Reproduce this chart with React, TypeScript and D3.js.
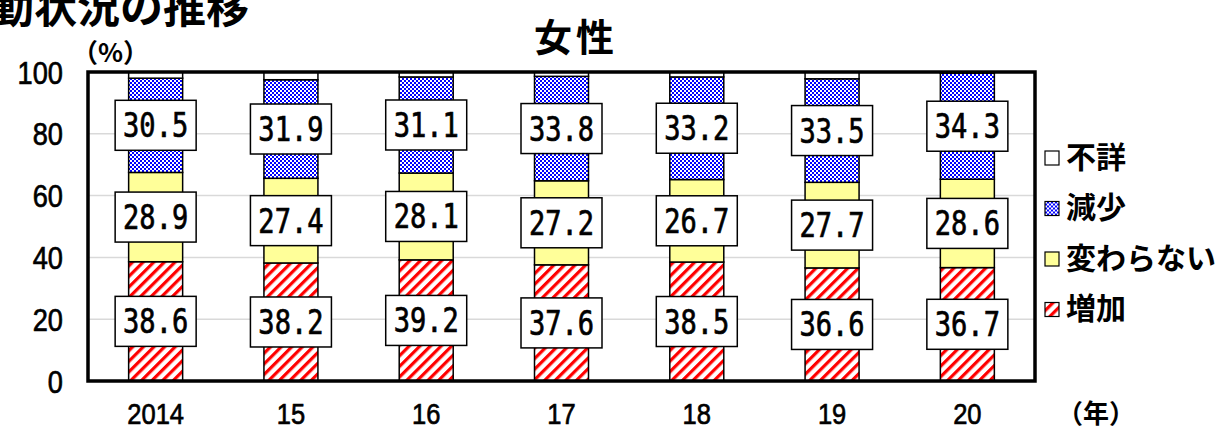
import React, { useEffect, useRef } from 'react';
import * as d3 from 'd3';

const years = ['2014', '15', '16', '17', '18', '19', '20'];
const increase = [38.6, 38.2, 39.2, 37.6, 38.5, 36.6, 36.7];
const unchanged = [28.9, 27.4, 28.1, 27.2, 26.7, 27.7, 28.6];
const decrease = [30.5, 31.9, 31.1, 33.8, 33.2, 33.5, 34.3];
const unknown = [2.0, 2.5, 1.6, 1.4, 1.6, 2.2, 0.4];
const yTicks = [0, 20, 40, 60, 80, 100];
const seriesNames = ['増加', '変わらない', '減少', '不詳'];

const NUM_FONT = '"Liberation Sans", Arial, sans-serif';
const MONO_FONT = '"DejaVu Sans Mono", "Liberation Mono", monospace';
const JP_FONT = '"Noto Sans CJK JP", sans-serif';

const App = () => {
  const svgRef = useRef<SVGSVGElement>(null);

  useEffect(() => {
    const svg = d3.select(svgRef.current);
    svg.selectAll('*').remove();

    const left = 88, right = 1035, top = 72, bottom = 381;

    const defs = svg.append('defs');
    const stripe = defs.append('pattern')
      .attr('id', 'stripe')
      .attr('patternUnits', 'userSpaceOnUse')
      .attr('width', 7.5).attr('height', 7.5)
      .attr('patternTransform', 'rotate(45)');
    stripe.append('rect').attr('width', 7.5).attr('height', 7.5).attr('fill', '#fff');
    stripe.append('rect').attr('width', 3.2).attr('height', 7.5).attr('fill', '#ff0000');

    const check = defs.append('pattern')
      .attr('id', 'check')
      .attr('patternUnits', 'userSpaceOnUse')
      .attr('width', 4).attr('height', 4);
    check.append('rect').attr('width', 4).attr('height', 4).attr('fill', '#fff');
    check.append('rect').attr('width', 2).attr('height', 2).attr('fill', '#0000ff');
    check.append('rect').attr('x', 2).attr('y', 2).attr('width', 2).attr('height', 2).attr('fill', '#0000ff');

    const fills = ['url(#stripe)', '#ffff99', 'url(#check)', '#ffffff'];

    const x = d3.scaleBand().domain(years).range([left, right]).paddingInner(0.6).paddingOuter(0.3);
    const y = d3.scaleLinear().domain([0, 100]).range([bottom, top]);

    // gridlines
    svg.append('g').selectAll('line')
      .data(yTicks.filter(t => t > 0 && t < 100))
      .join('line')
      .attr('x1', left).attr('x2', right)
      .attr('y1', d => y(d)).attr('y2', d => y(d))
      .attr('stroke', '#d9d9d9').attr('stroke-width', 1.5);

    const table = years.map((yr, i) => ({ year: yr, s0: increase[i], s1: unchanged[i], s2: decrease[i], s3: unknown[i] }));
    const stack = d3.stack<any>().keys(['s0', 's1', 's2', 's3'])(table);

    const bw = 54;
    const cx = (yr: string) => (x(yr) as number) + x.bandwidth() / 2;

    stack.forEach((layer, li) => {
      svg.append('g').selectAll('rect')
        .data(layer)
        .join('rect')
        .attr('x', d => cx(d.data.year) - bw / 2)
        .attr('width', bw)
        .attr('y', d => y(d[1]))
        .attr('height', d => y(d[0]) - y(d[1]))
        .attr('fill', fills[li])
        .attr('stroke', '#000')
        .attr('stroke-width', 1.5);
    });

    // value labels for first three series
    stack.slice(0, 3).forEach(layer => {
      const g = svg.append('g').selectAll('g')
        .data(layer)
        .join('g')
        .attr('transform', d => `translate(${cx(d.data.year)},${y((d[0] + d[1]) / 2)})`);
      g.append('rect')
        .attr('x', -40.5).attr('y', -25).attr('width', 81).attr('height', 50)
        .attr('fill', '#fff').attr('stroke', '#000').attr('stroke-width', 1.5);
      g.append('text')
        .attr('transform', 'translate(0,12) scale(0.82,1)')
        .attr('text-anchor', 'middle')
        .attr('font-family', MONO_FONT)
        .attr('font-size', 33)
        .attr('stroke', '#000').attr('stroke-width', 0.7)
        .attr('fill', '#000')
        .text(d => (d[1] - d[0]).toFixed(1));
    });

    // frame
    svg.append('rect')
      .attr('x', left).attr('y', top)
      .attr('width', right - left).attr('height', bottom - top)
      .attr('fill', 'none').attr('stroke', '#000').attr('stroke-width', 3.5);

    // y axis labels
    svg.append('g').selectAll('text')
      .data(yTicks)
      .join('text')
      .attr('transform', d => `translate(63,${y(d) + 11.5}) scale(0.85,1)`)
      .attr('text-anchor', 'end')
      .attr('font-family', NUM_FONT)
      .attr('font-size', 32)
      .attr('stroke', '#000').attr('stroke-width', 0.7)
      .text(d => d);

    // x axis labels
    svg.append('g').selectAll('text')
      .data(years)
      .join('text')
      .attr('transform', d => `translate(${cx(d)},424) scale(0.85,1)`)
      .attr('text-anchor', 'middle')
      .attr('font-family', NUM_FONT)
      .attr('font-size', 30)
      .attr('stroke', '#000').attr('stroke-width', 0.7)
      .text(d => d);

    svg.append('text').attr('x', 1057).attr('y', 423)
      .attr('font-family', JP_FONT).attr('font-size', 26).attr('font-weight', 'bold')
      .text('（年）');

    svg.append('text').attr('x', 72).attr('y', 62)
      .attr('font-family', JP_FONT).attr('font-size', 26).attr('font-weight', 'bold')
      .text('（%）');

    svg.append('text').attr('x', 576).attr('y', 51)
      .attr('text-anchor', 'middle')
      .attr('font-family', JP_FONT).attr('font-size', 38).attr('font-weight', 'bold')
      .attr('letter-spacing', 4)
      .text('女性');

    svg.append('text').attr('x', -9).attr('y', 23)
      .attr('font-family', JP_FONT).attr('font-size', 43).attr('font-weight', 'bold')
      .text('動状況の推移');

    // legend (top to bottom: 不詳, 減少, 変わらない, 増加)
    const legendOrder = [3, 2, 1, 0];
    const lg = svg.append('g').selectAll('g')
      .data(legendOrder)
      .join('g')
      .attr('transform', (d, i) => `translate(1045,${157 + i * 50.5})`);
    lg.append('rect')
      .attr('x', 0).attr('y', -6).attr('width', 14).attr('height', 14)
      .attr('fill', d => fills[d]).attr('stroke', '#000').attr('stroke-width', 1.2);
    lg.append('text')
      .attr('x', 21).attr('dy', '0.36em')
      .attr('font-family', JP_FONT).attr('font-size', 30).attr('font-weight', 'bold')
      .text(d => seriesNames[d]);
  }, []);

  return (
    <svg ref={svgRef} width={1229} height={430}
      style={{ position: 'absolute', left: 0, top: 0, background: '#fff' }} />
  );
};

export default App;
